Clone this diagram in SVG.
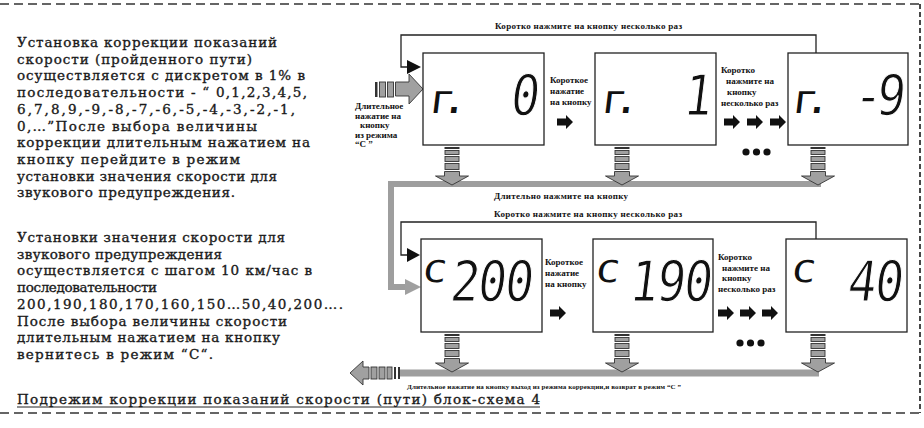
<svg xmlns="http://www.w3.org/2000/svg" width="924" height="428" viewBox="0 0 924 428">
<style>
.body{font-family:"DejaVu Serif","Liberation Serif",serif;font-size:13.5px;fill:#1a1a1a;stroke:#1a1a1a;stroke-width:0.35}
.lbl{font-family:"Liberation Serif",serif;font-weight:bold;font-size:9px;fill:#111}
.box{fill:#fff;stroke:#222;stroke-width:1.3}
.seg{font-family:"DejaVu Sans Mono",monospace;fill:#111;stroke:#fff;stroke-width:1.1}
.segs{font-family:"DejaVu Sans Mono",monospace;fill:#111}
.thin{fill:none;stroke:#222;stroke-width:1.3}
.gray{fill:none;stroke:#9e9e9e;stroke-width:6}
.gfill{fill:#a0a0a0;stroke:#333;stroke-width:0.9}
.dash{fill:none;stroke:#333;stroke-width:1.5;stroke-dasharray:9 5}
.vdash{fill:none;stroke:#333;stroke-width:1.8;stroke-dasharray:5 3}
</style>
<defs>
<g id="sdown">
<rect x="-7.5" y="0" width="15" height="2" fill="#333"/>
<rect x="-7" y="3.5" width="14" height="4" class="gfill"/>
<rect x="-7" y="9.5" width="14" height="5" class="gfill"/>
<rect x="-7" y="16.5" width="14" height="6" class="gfill"/>
<polygon points="-7.5,24.5 7.5,24.5 7.5,29 16.5,29 0,38 -16.5,29 -7.5,29" class="gfill"/>
</g>
<polygon id="barr" points="0,-3.5 9,-3.5 9,-7 16,0 9,7 9,3.5 0,3.5" fill="#111"/>
</defs>

<g id="frame">
<line x1="0" y1="4" x2="921" y2="4" class="dash"/>
<line x1="0" y1="413" x2="921" y2="413" class="dash"/>
<line x1="920" y1="4" x2="920" y2="413" class="vdash"/>
</g>

<g id="text1" class="body">
<text x="17" y="47" textLength="260" lengthAdjust="spacing">Установка коррекции показаний</text>
<text x="17" y="63.7" textLength="235" lengthAdjust="spacing">скорости (пройденного пути)</text>
<text x="17" y="80.4" textLength="288" lengthAdjust="spacing">осуществляется с дискретом в 1% в</text>
<text x="17" y="97.1" textLength="290" lengthAdjust="spacing">последовательности - “ 0,1,2,3,4,5,</text>
<text x="17" y="113.8" textLength="278" lengthAdjust="spacing">6,7,8,9,-9,-8,-7,-6,-5,-4,-3,-2,-1,</text>
<text x="17" y="130.5" textLength="240" lengthAdjust="spacing">0,…”После выбора величины</text>
<text x="17" y="147.2" textLength="293" lengthAdjust="spacing">коррекции длительным нажатием на</text>
<text x="17" y="163.9" textLength="223" lengthAdjust="spacing">кнопку  перейдите в режим</text>
<text x="17" y="180.6" textLength="260" lengthAdjust="spacing">установки значения скорости для</text>
<text x="17" y="197.3" textLength="218" lengthAdjust="spacing">звукового предупреждения.</text>
</g>

<g id="text2" class="body">
<text x="17" y="242" textLength="268" lengthAdjust="spacing">Установки значения скорости для</text>
<text x="17" y="258.7" textLength="205" lengthAdjust="spacing">звукового предупреждения</text>
<text x="17" y="275.4" textLength="295" lengthAdjust="spacing">осуществляется с шагом 10 км/час в</text>
<text x="17" y="292.1" textLength="140" lengthAdjust="spacing">последовательности</text>
<text x="17" y="308.8" textLength="326" lengthAdjust="spacing">200,190,180,170,160,150…50,40,200….</text>
<text x="17" y="325.5" textLength="270" lengthAdjust="spacing">После выбора величины скорости</text>
<text x="17" y="342.2" textLength="263" lengthAdjust="spacing">длительным нажатием на кнопку</text>
<text x="17" y="358.9" textLength="196" lengthAdjust="spacing">вернитесь в режим “С“.</text>
</g>

<g id="caption">
<text x="17" y="404" class="body" textLength="523" lengthAdjust="spacing">Подрежим коррекции показаний  скорости (пути) блок-схема 4</text>
<line x1="17" y1="407" x2="540" y2="407" stroke="#222" stroke-width="1"/>
</g>

<g id="connectors">
<path d="M816,53 V35 H401 V67 H408" class="thin"/>
<polygon points="407,60 421,67 407,74" fill="#111"/>
<path d="M816,239 V222 H401 V255 H408" class="thin"/>
<polygon points="407,248 420,255 407,262" fill="#111"/>
<path d="M821,184 H391 V287 H407" class="gray"/>
<polygon points="405,279 421,287 405,295" fill="#a0a0a0"/>
<line x1="398" y1="373" x2="819" y2="373" stroke="#9e9e9e" stroke-width="7"/>
<rect x="375" y="82" width="2.5" height="15" fill="#333"/>
<rect x="379.5" y="82" width="6" height="15" class="gfill"/>
<rect x="387.5" y="82" width="6" height="15" class="gfill"/>
<polygon points="395.5,82 409,82 409,74 423,89 409,104 409,96 395.5,96" class="gfill"/>
<polygon points="350,373 363,361 363,367 369,367 369,379 363,379 363,385" class="gfill"/>
<rect x="371" y="367" width="6" height="12" class="gfill"/>
<rect x="379" y="367" width="6" height="12" class="gfill"/>
<rect x="387" y="367" width="5" height="12" class="gfill"/>
<rect x="394" y="367" width="2" height="12" fill="#333"/>
<rect x="398" y="367" width="2" height="12" fill="#333"/>
<use href="#sdown" x="452" y="147"/>
<use href="#sdown" x="622" y="147"/>
<use href="#sdown" x="818" y="147"/>
<use href="#sdown" x="452" y="334"/>
<use href="#sdown" x="622" y="334"/>
<use href="#sdown" x="818" y="334"/>
<use href="#barr" x="557" y="122"/>
<use href="#barr" x="724" y="122"/>
<use href="#barr" x="747" y="122"/>
<use href="#barr" x="770" y="122"/>
<use href="#barr" x="550" y="313"/>
<use href="#barr" x="718" y="313"/>
<use href="#barr" x="740" y="313"/>
<use href="#barr" x="762" y="313"/>
<circle cx="746" cy="152" r="3.6" fill="#111"/>
<circle cx="756.5" cy="152" r="3.6" fill="#111"/>
<circle cx="767" cy="152" r="3.6" fill="#111"/>
<circle cx="740" cy="343" r="3.6" fill="#111"/>
<circle cx="750.5" cy="343" r="3.6" fill="#111"/>
<circle cx="761" cy="343" r="3.6" fill="#111"/>
</g>

<g id="labels" class="lbl">
<text x="495" y="29" textLength="187" lengthAdjust="spacing">Коротко нажмите на  кнопку несколько раз</text>
<text x="494" y="199" textLength="134" lengthAdjust="spacing">Длительно нажмите на  кнопку</text>
<text x="494" y="217" textLength="188" lengthAdjust="spacing">Коротко нажмите на  кнопку несколько раз</text>
<text x="407" y="389" font-size="7" textLength="274" lengthAdjust="spacing">Длительное нажатие на  кнопку выход из режима коррекции,и возврат в режим “С ”</text>
<text x="355" y="109">Длительное</text>
<text x="355" y="118.5">нажатие на</text>
<text x="360" y="128">кнопку</text>
<text x="355" y="137.5">из режима</text>
<text x="355" y="147">“С ”</text>
<text x="550" y="83">Короткое</text>
<text x="550" y="94">нажатие</text>
<text x="550" y="105">на кнопку</text>
<text x="721" y="73">Коротко</text>
<text x="726" y="84">нажмите на</text>
<text x="727" y="95">кнопку</text>
<text x="721" y="106">несколько раз</text>
<text x="545" y="265">Короткое</text>
<text x="545" y="276">нажатие</text>
<text x="545" y="287">на кнопку</text>
<text x="718" y="260">Коротко</text>
<text x="722" y="270.5">нажмите на</text>
<text x="722" y="281">кнопку</text>
<text x="718" y="291.5">несколько раз</text>
</g>

<g id="box1">
<rect x="423" y="53" width="121" height="92" class="box"/>
<g transform="translate(428,113) skewX(-7) scale(1.1,1)"><text class="segs" font-size="40" letter-spacing="-13">г.</text></g>
<g transform="translate(509,115) skewX(-7) scale(0.85,1)"><text class="seg" font-size="56">0</text></g>
</g>
<g id="box2">
<rect x="595" y="53" width="121" height="92" class="box"/>
<g transform="translate(600,113) skewX(-7) scale(1.1,1)"><text class="segs" font-size="40" letter-spacing="-13">г.</text></g>
<g transform="translate(682,115) skewX(-7) scale(0.85,1)"><text class="seg" font-size="56">1</text></g>
</g>
<g id="box3">
<rect x="788" y="53" width="120" height="92" class="box"/>
<g transform="translate(791,113) skewX(-7) scale(1.1,1)"><text class="segs" font-size="40" letter-spacing="-13">г.</text></g>
<g transform="translate(852,115) skewX(-7) scale(0.85,1)"><text class="seg" font-size="56" letter-spacing="-7">-9</text></g>
</g>
<g id="box4">
<rect x="421" y="239" width="121" height="93" class="box"/>
<g transform="translate(422,282) skewX(-7) scale(1.3,1)"><text class="segs" font-size="30">С</text></g>
<g transform="translate(449,301) skewX(-7) scale(0.85,1)"><text class="seg" font-size="56" letter-spacing="-2">200</text></g>
</g>
<g id="box5">
<rect x="593" y="239" width="120" height="93" class="box"/>
<g transform="translate(595,282) skewX(-7) scale(1.3,1)"><text class="segs" font-size="30">С</text></g>
<g transform="translate(628,301) skewX(-7) scale(0.85,1)"><text class="seg" font-size="56" letter-spacing="-2">190</text></g>
</g>
<g id="box6">
<rect x="786" y="239" width="121" height="93" class="box"/>
<g transform="translate(791,282) skewX(-7) scale(1.3,1)"><text class="segs" font-size="30">С</text></g>
<g transform="translate(846,301) skewX(-7) scale(0.85,1)"><text class="seg" font-size="56" letter-spacing="-2">40</text></g>
</g>
</svg>
